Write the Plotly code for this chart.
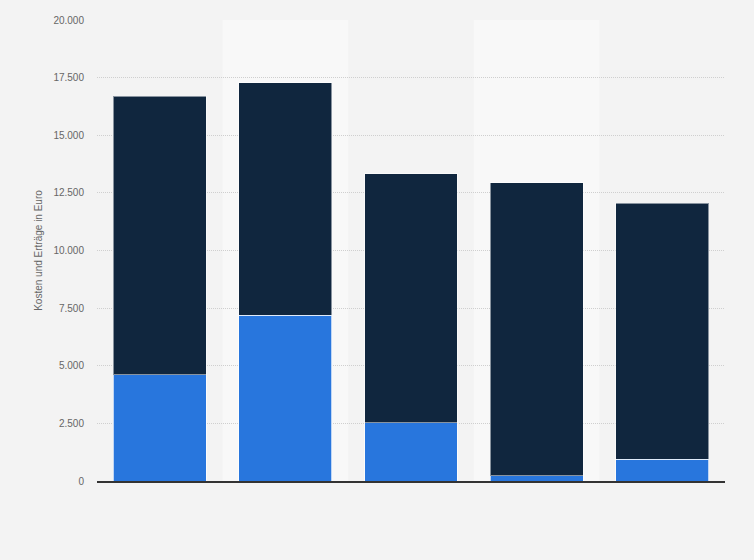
import plotly.graph_objects as go

# categories (labels not shown in the chart)
categories = ['A', 'B', 'C', 'D', 'E']
# lower (blue) and upper (dark) stacked segments in Euro
ertraege = [4600, 7200, 2520, 230, 940]
kosten = [12100, 10070, 10800, 12700, 11120]
y_ticks = [0, 2500, 5000, 7500, 10000, 12500, 15000, 17500, 20000]

fig = go.Figure()
fig.add_trace(go.Bar(x=categories, y=ertraege, name='Erträge',
                     marker=dict(color='#2876dd', line=dict(color='rgba(255,255,255,0.7)', width=1))))
fig.add_trace(go.Bar(x=categories, y=kosten, name='Kosten',
                     marker=dict(color='#10263e', line=dict(color='rgba(255,255,255,0.5)', width=1))))

# lighter background bands behind every second column
for i in range(1, len(categories), 2):
    fig.add_shape(type='rect', xref='x', yref='paper', x0=i - 0.5, x1=i + 0.5, y0=0, y1=1,
                  fillcolor='#f8f8f8', line=dict(width=0), layer='below')

fig.update_layout(
    barmode='stack',
    bargap=0.26,
    showlegend=False,
    separators=',.',
    paper_bgcolor='#f3f3f3',
    plot_bgcolor='#f3f3f3',
    width=754, height=560,
    margin=dict(l=97, r=29, t=20, b=79),
    font=dict(family='Arial, Liberation Sans, sans-serif', size=10, color='#666666'),
)
fig.update_xaxes(showticklabels=False, showline=True, linecolor='#333333', linewidth=1.5,
                 showgrid=False, ticks='', range=[-0.5, 4.5])
fig.update_yaxes(range=[0, 20000], tickvals=y_ticks, tickformat=',.0f',
                 showgrid=True, gridcolor='#cfcfcf', griddash='1px,1px', gridwidth=1,
                 zeroline=False, ticks='', ticklen=0, ticklabelstandoff=12,
                 title=dict(text='Kosten und Erträge in Euro', font=dict(size=10, color='#666666'),
                            standoff=8))

fig.write_html('out.html', config={'displayModeBar': False},
               post_script="document.body.style.margin='0';document.body.style.background='#f3f3f3';")
